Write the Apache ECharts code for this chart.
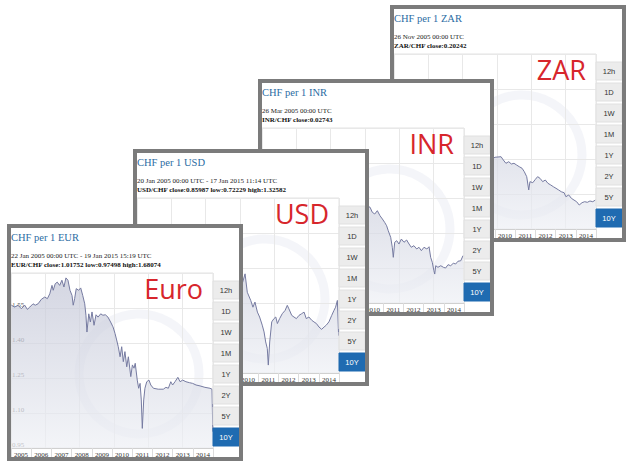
<!DOCTYPE html>
<html><head><meta charset="utf-8">
<script src="https://cdn.jsdelivr.net/npm/echarts/dist/echarts.min.js"></script>
<style>
html,body{margin:0;padding:0;background:#fff;width:633px;height:463px;overflow:hidden;position:relative}
.p{position:absolute;width:236px;height:237px;background:#fff}
</style></head>
<body>
<div id="zar" class="p" style="left:390px;top:5px;z-index:1"></div>
<div id="inr" class="p" style="left:258px;top:79px;z-index:2"></div>
<div id="usd" class="p" style="left:133px;top:149px;z-index:3"></div>
<div id="eur" class="p" style="left:7px;top:224px;z-index:4"></div>
<script>
// ---- tick labels / buttons ----
var yearLabels = ['2005','2006','2007','2008','2009','2010','2011','2012','2013','2014'];
var rangeButtons = ['12h','1D','1W','1M','1Y','2Y','5Y','10Y'];

// ---- series values [decimal year, rate] ----
var eurData = [[2005.02,1.562],[2005.18,1.554],[2005.35,1.562],[2005.51,1.547],[2005.68,1.562],[2005.81,1.544],[2005.93,1.554],[2006.09,1.568],[2006.20,1.562],[2006.34,1.568],[2006.50,1.587],[2006.67,1.597],[2006.80,1.590],[2006.92,1.611],[2007.03,1.647],[2007.09,1.626],[2007.19,1.654],[2007.29,1.661],[2007.41,1.647],[2007.52,1.669],[2007.62,1.640],[2007.72,1.679],[2007.82,1.669],[2007.92,1.626],[2008.02,1.604],[2008.08,1.562],[2008.15,1.590],[2008.23,1.633],[2008.35,1.626],[2008.45,1.636],[2008.55,1.604],[2008.65,1.568],[2008.71,1.519],[2008.76,1.447],[2008.85,1.525],[2008.93,1.490],[2009.01,1.533],[2009.11,1.476],[2009.21,1.521],[2009.31,1.511],[2009.44,1.525],[2009.55,1.519],[2009.67,1.521],[2009.80,1.511],[2009.93,1.490],[2010.05,1.469],[2010.15,1.441],[2010.23,1.413],[2010.31,1.384],[2010.40,1.341],[2010.48,1.384],[2010.56,1.320],[2010.64,1.363],[2010.73,1.298],[2010.81,1.341],[2010.93,1.256],[2011.01,1.306],[2011.09,1.292],[2011.15,1.313],[2011.25,1.241],[2011.32,1.206],[2011.39,1.227],[2011.45,1.156],[2011.50,1.034],[2011.57,1.156],[2011.63,1.206],[2011.72,1.234],[2011.83,1.241],[2011.92,1.220],[2012.05,1.206],[2012.29,1.202],[2012.54,1.202],[2012.67,1.210],[2012.79,1.206],[2012.91,1.234],[2013.00,1.220],[2013.12,1.234],[2013.26,1.253],[2013.37,1.234],[2013.50,1.241],[2013.66,1.234],[2013.83,1.230],[2013.99,1.227],[2014.16,1.220],[2014.36,1.216],[2014.60,1.210],[2014.85,1.206],[2014.95,1.202],[2014.99,1.020]];
var usdData = [[2005.0,1.17],[2005.2,1.19],[2005.4,1.23],[2005.6,1.27],[2005.8,1.30],[2005.9,1.31],[2006.1,1.29],[2006.3,1.23],[2006.5,1.24],[2006.7,1.25],[2006.9,1.21],[2007.1,1.24],[2007.3,1.21],[2007.5,1.22],[2007.7,1.18],[2007.9,1.12],[2008.1,1.08],[2008.3,1.00],[2008.5,1.03],[2008.7,1.10],[2008.85,1.18],[2009.0,1.08],[2009.2,1.15],[2009.4,1.08],[2009.6,1.07],[2009.8,1.01],[2010.0,1.03],[2010.2,1.08],[2010.35,1.125],[2010.46,1.046],[2010.63,1.011],[2010.74,0.982],[2010.84,1.004],[2010.96,0.961],[2011.07,0.940],[2011.20,0.905],[2011.29,0.876],[2011.37,0.833],[2011.45,0.805],[2011.50,0.734],[2011.57,0.833],[2011.67,0.919],[2011.78,0.933],[2011.87,0.940],[2011.95,0.912],[2012.06,0.933],[2012.19,0.954],[2012.33,0.968],[2012.44,0.990],[2012.52,0.975],[2012.66,0.947],[2012.77,0.940],[2012.89,0.933],[2013.02,0.947],[2013.15,0.954],[2013.27,0.961],[2013.38,0.933],[2013.51,0.940],[2013.65,0.926],[2013.76,0.919],[2013.88,0.912],[2014.01,0.897],[2014.14,0.887],[2014.26,0.897],[2014.37,0.905],[2014.50,0.919],[2014.64,0.947],[2014.75,0.968],[2014.83,0.982],[2014.92,1.011],[2014.98,0.860]];
var inrData = [[2005.0,0.0285],[2005.3,0.0274],[2005.7,0.0283],[2006.0,0.0280],[2006.4,0.0272],[2006.8,0.0268],[2007.2,0.0275],[2007.6,0.0285],[2007.9,0.0280],[2008.2,0.0262],[2008.5,0.0245],[2008.8,0.0228],[2009.1,0.0232],[2009.5,0.0222],[2009.8,0.0222],[2010.1,0.0232],[2010.35,0.02294],[2010.46,0.02237],[2010.58,0.02217],[2010.71,0.02255],[2010.84,0.02198],[2010.96,0.02160],[2011.07,0.02122],[2011.17,0.02083],[2011.25,0.02026],[2011.37,0.01951],[2011.45,0.01837],[2011.50,0.01722],[2011.57,0.01894],[2011.67,0.01912],[2011.78,0.01874],[2011.90,0.01931],[2012.03,0.01894],[2012.16,0.01920],[2012.28,0.01874],[2012.39,0.01837],[2012.52,0.01855],[2012.66,0.01817],[2012.77,0.01837],[2012.89,0.01798],[2013.02,0.01837],[2013.16,0.01817],[2013.27,0.01843],[2013.35,0.01722],[2013.43,0.01665],[2013.51,0.01569],[2013.55,0.01531],[2013.60,0.01626],[2013.71,0.01608],[2013.85,0.01626],[2013.98,0.01608],[2014.09,0.01600],[2014.21,0.01638],[2014.34,0.01626],[2014.47,0.01654],[2014.59,0.01646],[2014.70,0.01677],[2014.84,0.01683],[2014.95,0.01741]];
var zarData = [[2005.0,0.215],[2005.4,0.200],[2005.8,0.195],[2006.2,0.205],[2006.5,0.175],[2006.9,0.170],[2007.3,0.172],[2007.7,0.170],[2008.0,0.165],[2008.3,0.130],[2008.6,0.135],[2008.85,0.110],[2009.1,0.115],[2009.4,0.130],[2009.7,0.138],[2010.0,0.142],[2010.3,0.1426],[2010.41,0.1389],[2010.54,0.1351],[2010.68,0.1369],[2010.81,0.1343],[2010.94,0.1351],[2011.07,0.1331],[2011.20,0.1312],[2011.34,0.1294],[2011.45,0.1255],[2011.57,0.1198],[2011.67,0.1046],[2011.73,0.1141],[2011.87,0.1129],[2012.00,0.1168],[2012.11,0.1198],[2012.23,0.1179],[2012.36,0.1141],[2012.49,0.1160],[2012.62,0.1122],[2012.76,0.1103],[2012.89,0.1083],[2013.02,0.1065],[2013.15,0.1046],[2013.28,0.1026],[2013.42,0.1015],[2013.51,0.0969],[2013.65,0.0989],[2013.78,0.0951],[2013.91,0.0931],[2014.04,0.0912],[2014.17,0.0874],[2014.31,0.0901],[2014.44,0.0912],[2014.57,0.0905],[2014.70,0.0920],[2014.84,0.0912],[2014.97,0.0931]];

// covered: number of leading year labels hidden by the panel in front
var panels = [
  {id:'eur', title:'CHF per 1 EUR', line1:'22 Jan 2005 00:00 UTC - 19 Jan 2015 15:19 UTC', line2:'EUR/CHF close:1.01752 low:0.97498 high:1.68074', big:'Euro', data:eurData, min:0.95, interval:0.15, dec:2, yLabels:true, covered:0},
  {id:'usd', title:'CHF per 1 USD', line1:'20 Jan 2005 00:00 UTC - 17 Jan 2015 11:14 UTC', line2:'USD/CHF close:0.85987 low:0.72229 high:1.32582', big:'USD', data:usdData, min:0.70, interval:0.15, dec:2, yLabels:false, covered:5},
  {id:'inr', title:'CHF per 1 INR', line1:'26 Mar 2005 00:00 UTC', line2:'INR/CHF close:0.02743', big:'INR', data:inrData, min:0.012, interval:0.004, dec:3, yLabels:false, covered:5},
  {id:'zar', title:'CHF per 1 ZAR', line1:'26 Nov 2005 00:00 UTC', line2:'ZAR/CHF close:0.20242', big:'ZAR', data:zarData, min:0.06, interval:0.04, dec:2, yLabels:false, covered:5}
];

var SERIF = '"Liberation Serif","DejaVu Serif",serif';
var SANS = '"Liberation Sans",Arial,sans-serif';

function makePanel(p){
  var chart = echarts.init(document.getElementById(p.id), null, {renderer:'svg', width:236, height:237});
  var g = [];
  g.push({type:'circle', silent:true, z:0, shape:{cx:132, cy:150, r:60}, style:{fill:'none', stroke:'rgba(205,209,228,0.22)', lineWidth:9}});
  g.push({type:'text', z:100, x:4, y:8, style:{text:p.title, font:'10.5px '+SERIF, fill:'#2b6ca3', textVerticalAlign:'top', verticalAlign:'top'}});
  g.push({type:'text', z:100, x:4, y:28.5, style:{text:p.line1, font:'7px '+SERIF, fill:'#222', textVerticalAlign:'top', verticalAlign:'top'}});
  g.push({type:'text', z:100, x:4, y:37.5, style:{text:p.line2, font:'bold 7px '+SERIF, fill:'#111', textVerticalAlign:'top', verticalAlign:'top'}});
  g.push({type:'text', z:100, x:196, y:78, style:{text:p.big, font:'27px "Open Sans",sans-serif', fill:'#d7262c', textAlign:'right', align:'right', textVerticalAlign:'bottom', verticalAlign:'bottom'}});
  rangeButtons.forEach(function(b,i){
    var active = (b==='10Y');
    g.push({type:'rect', z:100, shape:{x:206, y:57+21*i, width:26, height:18}, style:{fill: active?'#1f6bb1':'#ececec', stroke: active?'#1f6bb1':'#e0e0e0', lineWidth:1}});
    g.push({type:'text', z:101, x:219, y:66+21*i, style:{text:b, font:'7.5px '+SANS, fill: active?'#fff':'#333', textAlign:'center', align:'center', textVerticalAlign:'middle', verticalAlign:'middle'}});
  });
  g.push({type:'rect', z:120, shape:{x:2, y:2, width:232, height:233}, style:{fill:'none', stroke:'#7b7b7b', lineWidth:4}});

  chart.setOption({
    animation:false,
    backgroundColor:'#fff',
    grid:{left:4, top:49, width:202, height:175, show:true, borderColor:'#e2e2e2', borderWidth:1, backgroundColor:'transparent'},
    xAxis:[
      {type:'category', data:yearLabels, boundaryGap:true, position:'bottom',
       axisLabel:{fontSize:7, fontFamily:SERIF, color:'#333', margin:3,
         formatter:function(v, i){ return i < p.covered ? '' : v; }},
       axisTick:{show:true, length:9, lineStyle:{color:'#dcdcdc'}},
       axisLine:{lineStyle:{color:'#d0d0d0'}}, splitLine:{show:false}},
      {type:'value', min:2005, max:2015, show:false},
      {type:'value', min:0, max:5.89, interval:1, position:'top',
       axisLabel:{show:false}, axisLine:{show:false}, axisTick:{show:false},
       splitLine:{show:true, lineStyle:{color:'#e8e8e8', width:1}}}
    ],
    yAxis:{type:'value', min:p.min, max:p.min+5*p.interval, interval:p.interval,
      axisLine:{show:false}, axisTick:{show:false},
      splitLine:{lineStyle:{color:'#e8e8e8', width:1}},
      axisLabel:{show:p.yLabels, inside:true, showMaxLabel:false, verticalAlign:'bottom', margin:1, fontSize:7, fontFamily:SERIF, color:'#555',
        formatter:function(v){return v.toFixed(p.dec);}}},
    series:[{type:'line', xAxisIndex:1, yAxisIndex:0, data:p.data, showSymbol:false, symbol:'none', z:5,
      lineStyle:{color:'#767ba1', width:1},
      areaStyle:{color:new echarts.graphic.LinearGradient(0,0,0,1,[{offset:0,color:'#c2c5d6'},{offset:1,color:'#eef0f5'}]), origin:'start'}}],
    graphic:g
  });
}
panels.forEach(makePanel);
</script>
</body></html>
